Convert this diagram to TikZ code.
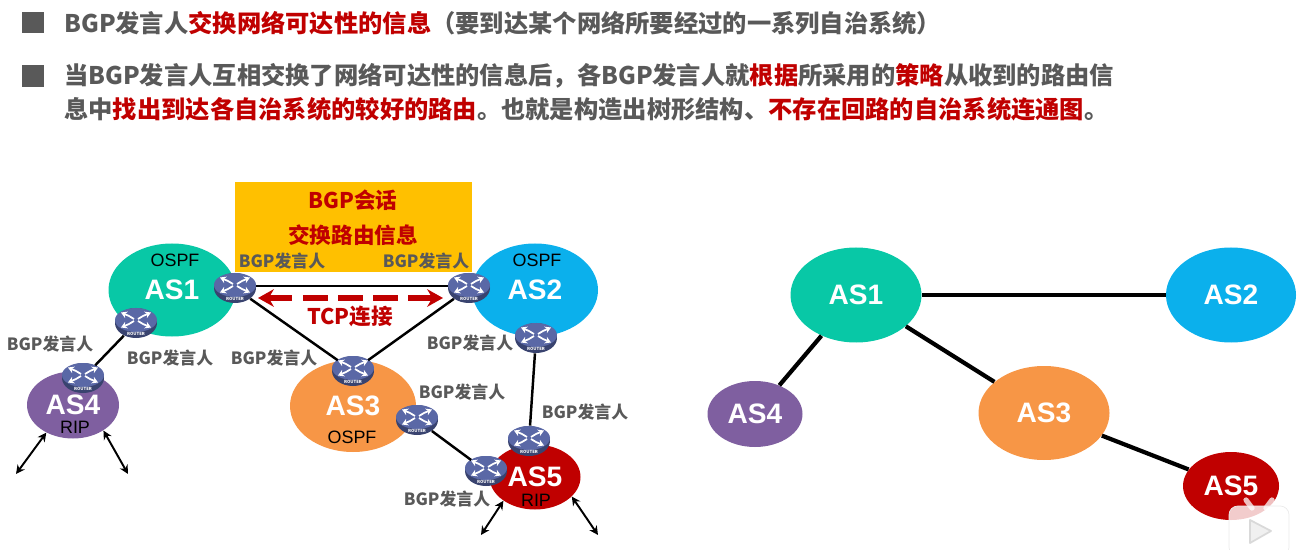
\documentclass[tikz,border=0pt]{standalone}
\usepackage{fontspec}
\setmainfont{Noto Sans CJK SC}
\newfontfamily\asfont{Liberation Sans}
\usetikzlibrary{shapes.geometric,arrows.meta}

\definecolor{asgreen}{HTML}{08C8A6}
\definecolor{asblue}{HTML}{0BB0EC}
\definecolor{asorange}{HTML}{F79646}
\definecolor{aspurple}{HTML}{7F5FA0}
\definecolor{asred}{HTML}{C00000}
\definecolor{txtgray}{HTML}{595959}
\definecolor{boxyellow}{HTML}{FFC000}
\definecolor{routertop}{HTML}{5A68A6}
\definecolor{routerside}{HTML}{39436F}

\newcommand{\hl}[1]{\textcolor{asred}{#1}}

\tikzset{
  asbig/.style={ellipse, inner sep=0pt, text=white, font=\asfont\fontsize{16}{18}\selectfont\bfseries},
  proto/.style={inner sep=0pt, text=black, font=\asfont\fontsize{10.2}{12}\selectfont},
  speaker/.style={inner sep=0pt, text=txtgray, font=\fontsize{9.6}{11}\selectfont\bfseries},
  headline/.style={anchor=west, inner sep=0pt, text=txtgray, font=\fontsize{13.82}{16}\selectfont\bfseries},
  boxtext/.style={inner sep=0pt, text=asred, font=\fontsize{12.3}{14}\selectfont\bfseries},
  routerbody/.style={ellipse, inner sep=0pt, minimum width=42*0.02cm, minimum height=30*0.02cm, fill=routerside},
  link/.style={black, line width=1.4pt},
  tlink/.style={black, line width=2.4pt},
  both/.style={black, line width=1.1pt, {Stealth[length=5pt,width=5pt]}-{Stealth[length=5pt,width=5pt]}}
}

% Router icon: name, position
\newcommand{\router}[2]{
  \node[routerbody] (#1) at (#2) {};
  \begin{scope}[shift={(#2)}]
    \fill[routertop] (0,-3) ellipse (21 and 12);
    \foreach \sx/\sy in {1/1,-1/1,1/-1,-1/-1}
      \draw[white, line width=1pt, -{Stealth[length=3.4pt,width=4pt]}] (\sx*2,-3+\sy*1) -- (\sx*7,-3+\sy*4) -- (\sx*15,-3+\sy*7.5);
    \node[inner sep=0pt, text=white, font=\fontsize{2.4}{3}\selectfont\bfseries] at (0,11) {ROUTER};
  \end{scope}
}

\begin{document}
\begin{tikzpicture}[x=0.02cm, y=-0.02cm]
  \useasboundingbox (0,0) rectangle (1304,550);

  % Bullets and heading text
  \fill[txtgray] (22,12) rectangle (44,33);
  \fill[txtgray] (22,65) rectangle (44,87);
  \node[headline] (lineone) at (64,23) {BGP发言人\hl{交换网络可达性的信息}（要到达某个网络所要经过的一系列自治系统）};
  \node[headline] (linetwo) at (64,76) {当BGP发言人互相交换了网络可达性的信息后，各BGP发言人就\hl{根据}所采用的\hl{策略}从收到的路由信};
  \node[headline] (linethree) at (64,109) {息中\hl{找出到达各自治系统的较好的路由}。也就是构造出树形结构、\hl{不存在回路的自治系统连通图}。};

  % Yellow box
  \fill[boxyellow] (235,182) rectangle (472,272);
  \node[boxtext] (session) at (353,200) {BGP会话};
  \node[boxtext] (exchange) at (353,235) {交换路由信息};

  % Left autonomous systems
  \node[asbig, fill=asgreen, minimum width=127*0.02cm, minimum height=93*0.02cm] (as1) at (172,290) {AS1};
  \node[asbig, fill=asblue, minimum width=126*0.02cm, minimum height=93*0.02cm] (as2) at (535,290) {AS2};
  \node[asbig, fill=asorange, minimum width=126*0.02cm, minimum height=92*0.02cm] (as3) at (353,406) {AS3};
  \node[asbig, fill=aspurple, minimum width=92*0.02cm, minimum height=67*0.02cm] (as4) at (73,405) {AS4};
  \node[asbig, fill=asred, minimum width=91*0.02cm, minimum height=65*0.02cm] (as5) at (535,477) {AS5};

  \node[proto] (protoa) at (175,260) {OSPF};
  \node[proto] (protob) at (537,260) {OSPF};
  \node[proto] (protoc) at (352,437) {OSPF};
  \node[proto] (protod) at (75,427) {RIP};
  \node[proto] (protoe) at (536,500) {RIP};

  % Routers
  \router{ra}{235,288}
  \router{rb}{136,323}
  \router{rc}{83,378}
  \router{rd}{469,288}
  \router{re}{536,338}
  \router{rf}{353,371}
  \router{rg}{417,420}
  \router{rh}{529,441}
  \router{ri}{486,471}

  % Links between routers
  \draw[link] (ra.5) -- (rd.175);
  \draw[link] (ra) -- (rf);
  \draw[link] (rd) -- (rf);
  \draw[link] (rb) -- (rc);
  \draw[link] (re) -- (rh);
  \draw[link] (rg) -- (ri);

  % TCP connection
  \coordinate (tcpl) at (258,298);
  \coordinate (tcpr) at (443,298);
  \draw[asred, line width=3pt, dash pattern=on 14pt off 6pt, {Stealth[length=9pt,width=10pt]}-{Stealth[length=9pt,width=10pt]}] (tcpl) -- (tcpr);
  \node[boxtext] (tcp) at (350,316) {TCP连接};

  % Free arrows under AS4 and AS5
  \coordinate (enda) at (16,474);
  \coordinate (endb) at (128,474);
  \coordinate (endc) at (481,535);
  \coordinate (endd) at (598,535);
  \draw[both] (as4.226) -- (enda);
  \draw[both] (as4.-40) -- (endb);
  \draw[both] (as5.217) -- (endc);
  \draw[both] (as5.-28) -- (endd);

  % Speaker labels
  \node[speaker] (spa) at (282,261) {BGP发言人};
  \node[speaker] (spb) at (426,261) {BGP发言人};
  \node[speaker] (spc) at (50,344) {BGP发言人};
  \node[speaker] (spd) at (170,358) {BGP发言人};
  \node[speaker] (spe) at (274,358) {BGP发言人};
  \node[speaker] (spf) at (470,343) {BGP发言人};
  \node[speaker] (spg) at (462,392) {BGP发言人};
  \node[speaker] (sph) at (585,412) {BGP发言人};
  \node[speaker] (spi) at (447,499) {BGP发言人};

  % Right tree of autonomous systems
  \node[asbig, fill=asgreen, minimum width=131*0.02cm, minimum height=95*0.02cm] (treea) at (856,295) {AS1};
  \node[asbig, fill=asblue, minimum width=130*0.02cm, minimum height=95*0.02cm] (treeb) at (1231,295) {AS2};
  \node[asbig, fill=asorange, minimum width=131*0.02cm, minimum height=94*0.02cm] (treec) at (1044,413) {AS3};
  \node[asbig, fill=aspurple, minimum width=95*0.02cm, minimum height=66*0.02cm] (treed) at (755,414) {AS4};
  \node[asbig, fill=asred, minimum width=96*0.02cm, minimum height=68*0.02cm] (treee) at (1231,486) {AS5};

  \draw[tlink] (treea) -- (treeb);
  \draw[tlink] (treea) -- (treec);
  \draw[tlink] (treea) -- (treed);
  \draw[tlink] (treec) -- (treee);

  % Player badge in the corner
  \draw[white, opacity=0.75, line width=3pt, line cap=round] (1246,500) -- (1252,508);
  \draw[white, opacity=0.75, line width=3pt, line cap=round] (1272,500) -- (1266,508);
  \filldraw[draw=black!8, fill=white, fill opacity=0.8, rounded corners=5pt] (1229,506) rectangle (1289,556);
  \filldraw[draw=black!15, fill=black!6, line join=round, line width=1pt] (1250,520) -- (1271,531) -- (1250,543) -- cycle;
\end{tikzpicture}
\end{document}
